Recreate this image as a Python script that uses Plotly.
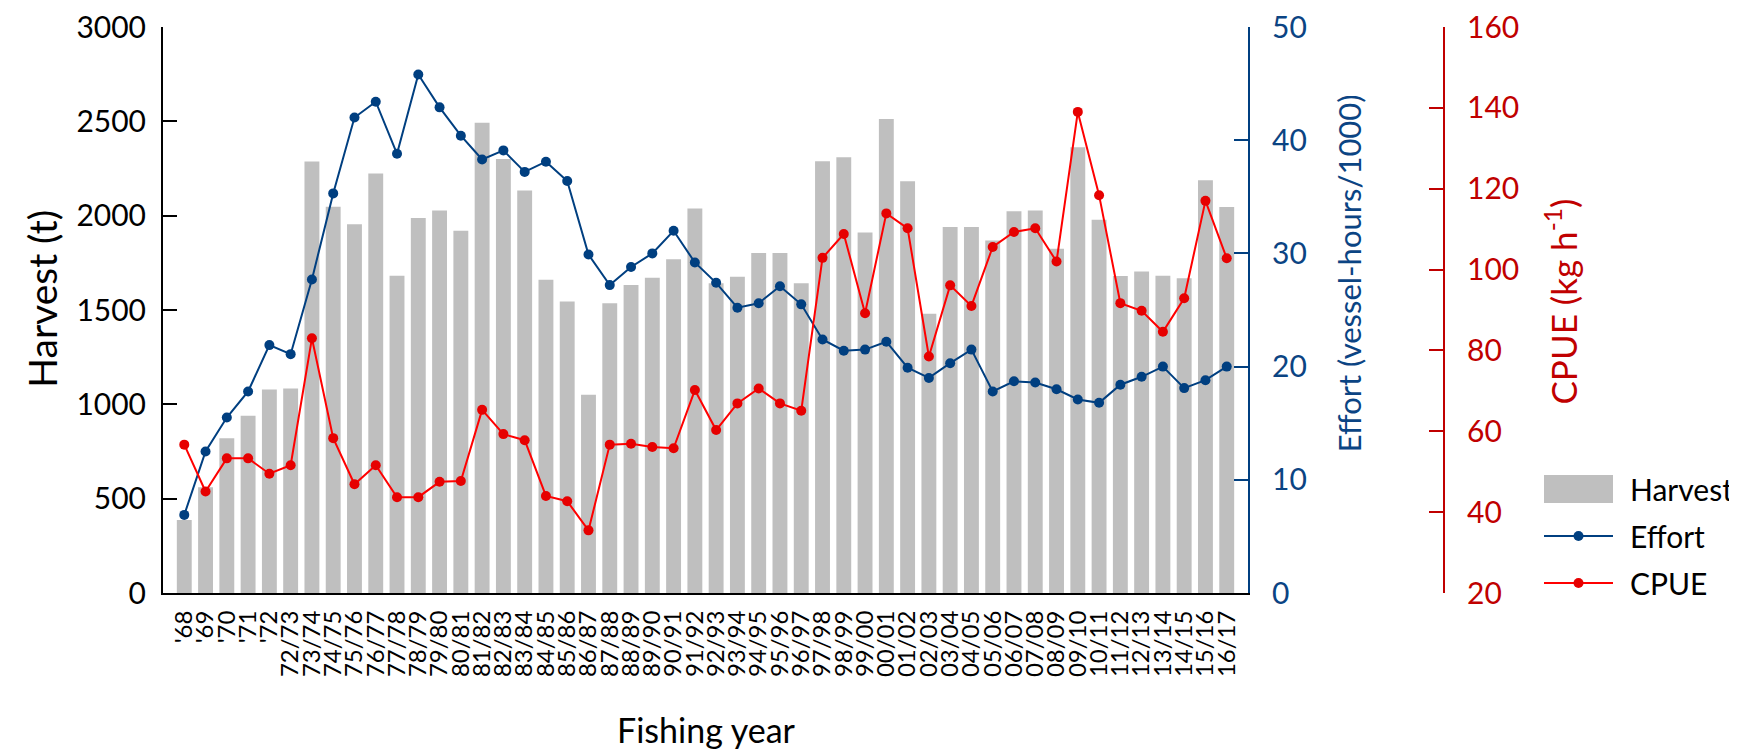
import plotly.graph_objects as go

years = ["'68", "'69", "'70", "'71", "'72", "72/73", "73/74", "74/75", "75/76", "76/77",
         "77/78", "78/79", "79/80", "80/81", "81/82", "82/83", "83/84", "84/85", "85/86", "86/87",
         "87/88", "88/89", "89/90", "90/91", "91/92", "92/93", "93/94", "94/95", "95/96", "96/97",
         "97/98", "98/99", "99/00", "00/01", "01/02", "02/03", "03/04", "04/05", "05/06", "06/07",
         "07/08", "08/09", "09/10", "10/11", "11/12", "12/13", "13/14", "14/15", "15/16", "16/17"]

harvest = [387, 560, 820, 940, 1078, 1084, 2287, 2047, 1955, 2224,
           1682, 1987, 2027, 1920, 2493, 2300, 2133, 1660, 1545, 1051,
           1536, 1633, 1671, 1769, 2038, 1642, 1676, 1802, 1802, 1642,
           2289, 2309, 1911, 2513, 2182, 1480, 1940, 1940, 1869, 2024,
           2027, 1824, 2362, 1978, 1680, 1704, 1682, 1668, 2188, 2046]

effort = [6.9, 12.5, 15.5, 17.8, 21.9, 21.1, 27.7, 35.3, 42.0, 43.4,
          38.8, 45.8, 42.9, 40.4, 38.3, 39.1, 37.2, 38.1, 36.4, 29.9,
          27.2, 28.8, 30.0, 32.0, 29.2, 27.4, 25.2, 25.6, 27.1, 25.5,
          22.4, 21.4, 21.5, 22.2, 19.9, 19.0, 20.3, 21.5, 17.8, 18.7,
          18.6, 18.0, 17.1, 16.8, 18.4, 19.1, 20.0, 18.1, 18.8, 20.0]

cpue = [56.7, 45.1, 53.3, 53.3, 49.5, 51.6, 83.0, 58.3, 46.9, 51.6,
        43.7, 43.7, 47.5, 47.7, 65.3, 59.3, 57.8, 44.0, 42.7, 35.5,
        56.7, 56.9, 56.1, 55.8, 70.2, 60.3, 66.9, 70.6, 66.9, 65.1,
        102.9, 108.8, 89.2, 113.9, 110.2, 78.5, 96.1, 91.0, 105.6, 109.3,
        110.2, 102.0, 139.0, 118.4, 91.7, 89.8, 84.6, 92.9, 117.0, 102.8]

harvest_ticks = [0, 500, 1000, 1500, 2000, 2500, 3000]
effort_ticks = [0, 10, 20, 30, 40, 50]
cpue_ticks = [20, 40, 60, 80, 100, 120, 140, 160]

GREY = "#BFBFBF"
BLUE = "#003F80"
BLUE_TXT = "#0B4483"
RED = "#FF0000"
RED_MK = "#E60000"
RED_AX = "#C00000"
FONT = "Lato, sans-serif"

W, H = 1737, 753
ML, MR, MT, MB = 155, 0, 19, 168
PW, PH = W - ML - MR, H - MT - MB

def px(x):
    return (x - ML) / PW

def py(y):
    return (H - MB - y) / PH

fig = go.Figure()
fig.add_trace(go.Bar(x=years, y=harvest, name="Harvest", marker=dict(color=GREY, line=dict(width=0)),
                     yaxis="y", showlegend=False))
fig.add_trace(go.Scatter(x=years, y=effort, name="Effort", mode="lines+markers", yaxis="y2",
                         line=dict(color=BLUE, width=2), marker=dict(color=BLUE, size=10),
                         showlegend=False))
fig.add_trace(go.Scatter(x=years, y=cpue, name="CPUE", mode="lines+markers", yaxis="y3",
                         line=dict(color=RED, width=2), marker=dict(color=RED_MK, size=10),
                         showlegend=False))

x_end = px(1240)
fig.update_layout(
    width=W, height=H,
    margin=dict(l=ML, r=MR, t=MT, b=MB),
    plot_bgcolor="white", paper_bgcolor="white",
    bargap=0.3,
    xaxis=dict(domain=[0, x_end], type="category", range=[-1, 50], showgrid=False,
               tickmode="linear", dtick=1,
               showline=True, linecolor="black", linewidth=2, ticks="",
               tickangle=-90, tickfont=dict(family=FONT, size=24, color="black"),
               ticklabelstandoff=6),
    yaxis=dict(range=[0, 3000], tickvals=harvest_ticks, showgrid=False, zeroline=False,
               showline=True, linecolor="black", linewidth=2, ticks="inside", ticklen=14,
               tickwidth=2, tickcolor="black", ticklabeloverflow="allow",
               tickfont=dict(family=FONT, size=30, color="black"), ticklabelstandoff=9),
    yaxis2=dict(range=[0, 50], tickvals=effort_ticks, overlaying="y", side="right", anchor="x",
                showgrid=False, zeroline=False, showline=True, linecolor=BLUE, linewidth=2,
                ticks="inside", ticklen=14, tickwidth=2, tickcolor=BLUE, ticklabeloverflow="allow",
                tickfont=dict(family=FONT, size=30, color=BLUE_TXT), ticklabelstandoff=16),
    yaxis3=dict(range=[20, 160], tickvals=cpue_ticks, overlaying="y", side="right", anchor="free",
                position=px(1436), showgrid=False, zeroline=False, showline=True,
                linecolor=RED_AX, linewidth=2, ticks="inside", ticklen=14, tickwidth=2,
                tickcolor=RED_AX, ticklabeloverflow="allow",
                tickfont=dict(family=FONT, size=30, color=RED_AX), ticklabelstandoff=16),
)

ann = [
    dict(text="Harvest (t)", x=px(34), y=0.52, textangle=-90, font=dict(family=FONT, size=39, color="black")),
    dict(text="Effort (vessel-hours/1000)", x=px(1341), y=0.565, textangle=-90,
         font=dict(family=FONT, size=31, color=BLUE_TXT)),
    dict(text="CPUE (kg h<sup>-1</sup>)", x=px(1553), y=0.515, textangle=-90,
         font=dict(family=FONT, size=35, color=RED_AX)),
    dict(text="Fishing year", x=px(698), y=py(721), font=dict(family=FONT, size=34, color="black")),
]
for a in ann:
    a.update(xref="paper", yref="paper", showarrow=False, xanchor="center", yanchor="middle")
    fig.add_annotation(**a)

# legend (drawn manually to mimic the original swatches)
leg_x0, leg_x1 = px(1536), px(1605)
leg_items = [("Harvest", 481), ("Effort", 528), ("CPUE", 575)]
fig.add_shape(type="rect", xref="paper", yref="paper", x0=leg_x0, x1=leg_x1,
              y0=py(495), y1=py(467), fillcolor=GREY, line=dict(width=0))
for name, yy, col, mk in [("Effort", 528, BLUE, BLUE), ("CPUE", 575, RED, RED_MK)]:
    fig.add_shape(type="line", xref="paper", yref="paper", x0=leg_x0, x1=leg_x1,
                  y0=py(yy), y1=py(yy), line=dict(color=col, width=2))
    cx = (leg_x0 + leg_x1) / 2
    rx, ry = 5 / PW, 5 / PH
    fig.add_shape(type="circle", xref="paper", yref="paper", x0=cx - rx, x1=cx + rx,
                  y0=py(yy) - ry, y1=py(yy) + ry, fillcolor=mk, line=dict(width=0))
for name, yy in leg_items:
    fig.add_annotation(text=name, xref="paper", yref="paper", x=px(1620), y=py(yy),
                       xanchor="left", yanchor="middle", showarrow=False,
                       font=dict(family=FONT, size=30, color="black"))

fig.write_html("out.html")
